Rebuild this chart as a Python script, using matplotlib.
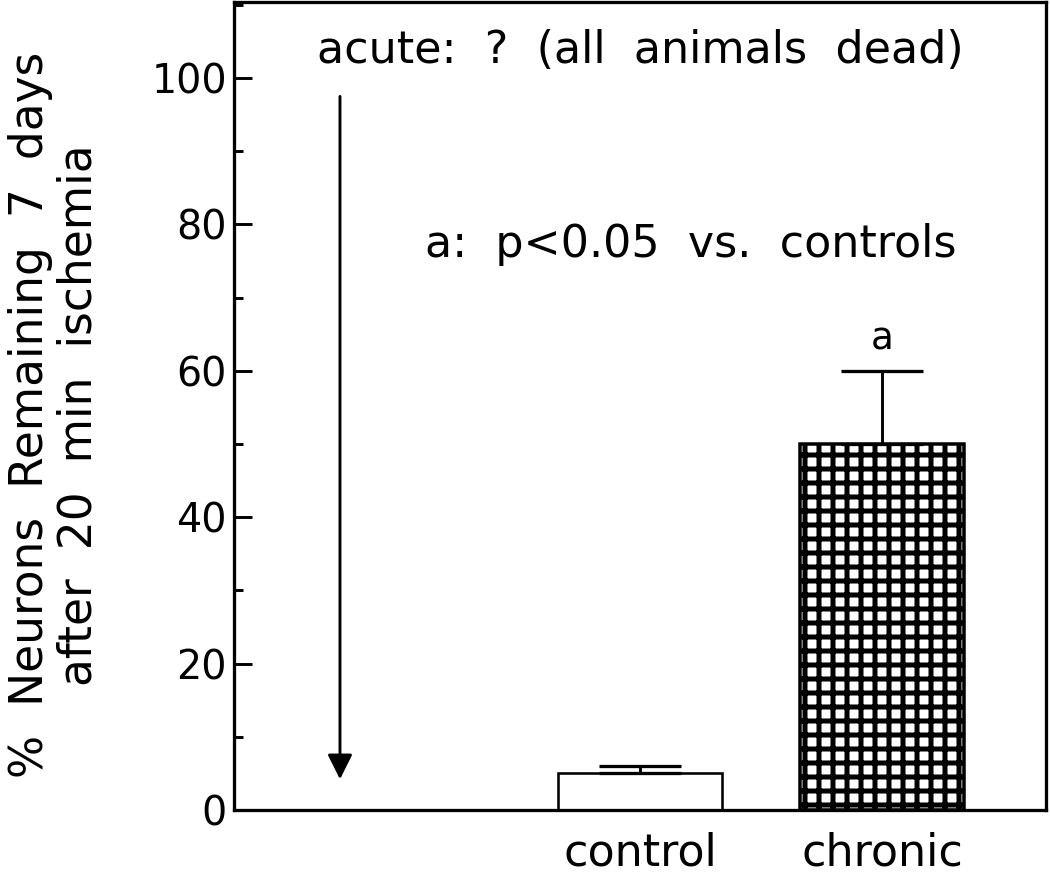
import matplotlib
matplotlib.use("Agg")
import matplotlib.pyplot as plt
from matplotlib.ticker import MultipleLocator

groups = ["control", "chronic"]
means = [5, 50]
errors = [1, 10]
acute_note = "acute:  ?  (all  animals  dead)"
sig_note = "a:  p<0.05  vs.  controls"
sig_marks = ["", "a"]
ylabel = "%  Neurons  Remaining  7  days\nafter  20  min  ischemia"

plt.rcParams["font.family"] = ["DejaVu Sans"]
plt.rcParams["hatch.linewidth"] = 4.3

fig = plt.figure(figsize=(12.5, 876 / 84), dpi=84)
ax = fig.add_axes([234 / 1050, 1 - 810 / 876, 812 / 1050, 808 / 876])

# acute sits left of the bars, control/chronic one unit apart
xpos = [2, 3]
acute_x = 0.76

ax.bar(xpos[0], means[0], width=0.68, color="white", edgecolor="black", linewidth=2.2)
ax.bar(xpos[1], means[1], width=0.68, color="white", edgecolor="black",
       linewidth=3, hatch="+")
ax.errorbar(xpos, means, yerr=[[0, 0], errors], fmt="none", ecolor="black",
            elinewidth=2.5, capsize=35, capthick=2.8)

for x, m, e, s in zip(xpos, means, errors, sig_marks):
    if s:
        ax.text(x, m + e + 1.8, s, ha="center", va="bottom", fontsize=32)

ax.annotate("", xy=(acute_x, 4.2), xytext=(acute_x, 97.5),
            arrowprops=dict(arrowstyle="-|>,head_width=0.45,head_length=0.9",
                            mutation_scale=20, color="black", lw=2.5,
                            shrinkA=0, shrinkB=0))
ax.text(2.0, 103.8, acute_note, ha="center", va="center", fontsize=38)
ax.text(2.21, 77.2, sig_note, ha="center", va="center", fontsize=38)

ax.set_xlim(0.322, 3.678)
ax.set_ylim(0, 110.4)
ax.set_xticks(xpos)
ax.set_xticklabels(groups, fontsize=38)
ax.tick_params(axis="x", length=0, pad=18)
ax.yaxis.set_major_locator(MultipleLocator(20))
ax.yaxis.set_minor_locator(MultipleLocator(10))
ax.tick_params(axis="y", which="major", direction="in", length=15, width=2.5,
               labelsize=34, pad=6)
ax.tick_params(axis="y", which="minor", direction="in", length=8, width=2.5)
for sp in ax.spines.values():
    sp.set_linewidth(2.8)

ax.set_ylabel(ylabel, fontsize=39, linespacing=1.1)
ax.yaxis.set_label_coords(-0.163, 0.489)

fig.savefig("out.png", dpi=84)
